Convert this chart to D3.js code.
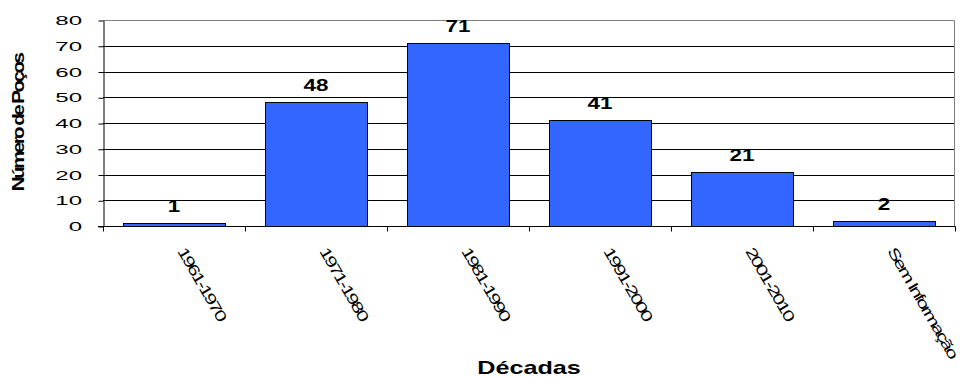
<!DOCTYPE html>
<html>
<head>
<meta charset="utf-8">
<script src="https://cdn.jsdelivr.net/npm/d3@7"></script>
<style>
body { margin: 0; background: #fff; }
text { font-family: Arial, "Liberation Sans", sans-serif; fill: #000; }
</style>
</head>
<body>
<svg width="960" height="379"></svg>
<script>
var decadas = ["1961-1970", "1971-1980", "1981-1990", "1991-2000", "2001-2010", "Sem Informação"];
var pocos = [1, 48, 71, 41, 21, 2];
var yTicks = [0, 10, 20, 30, 40, 50, 60, 70, 80];

var svg = d3.select("svg");
// plot area (note: "top" is reserved on window, so use other names)
var plotL = 103, plotR = 955, plotT = 20, plotB = 226;

var x = d3.scaleBand().domain(decadas).range([plotL, plotR])
	.paddingInner(0.28).paddingOuter(0.14);
var y = d3.scaleLinear().domain([0, 80]).range([plotB, plotT]);

// grid lines
svg.append("g").selectAll("line")
	.data(yTicks.filter(function(d) { return d > 0 && d < 80; }))
	.enter().append("line")
		.attr("x1", plotL).attr("x2", plotR)
		.attr("y1", function(d) { return Math.round(y(d)) + 0.5; })
		.attr("y2", function(d) { return Math.round(y(d)) + 0.5; })
		.attr("stroke", "#000").attr("stroke-width", 1);

// top and right border (grey)
svg.append("path")
	.attr("d", "M" + plotL + "," + (plotT + 0.5) + "H" + (plotR - 0.5) + "V" + plotB)
	.attr("fill", "none").attr("stroke", "#808080");

// bars
svg.append("g").selectAll("rect")
	.data(pocos)
	.enter().append("rect")
		.attr("x", function(d, i) { return Math.round(x(decadas[i])) + 0.5; })
		.attr("y", function(d) { return Math.round(y(d)) + 0.5; })
		.attr("width", Math.round(x.bandwidth()))
		.attr("height", function(d) { return Math.round(plotB - y(d)); })
		.attr("fill", "#3366ff")
		.attr("stroke", "#000").attr("stroke-width", 1);

// value labels
svg.append("g").selectAll("text")
	.data(pocos)
	.enter().append("text")
		.attr("transform", function(d, i) {
			return "translate(" + (x(decadas[i]) + x.bandwidth() / 2) + "," + (y(d) - 11) + ") scale(1.4,1)";
		})
		.attr("text-anchor", "middle")
		.attr("font-size", 16).attr("font-weight", "bold")
		.text(function(d) { return d; });

// y axis
var yAxis = svg.append("g").attr("transform", "translate(" + (plotL + 0.5) + ",0.5)")
	.call(d3.axisLeft(y).tickValues(yTicks).tickSize(5).tickSizeOuter(0).tickFormat(""));
yAxis.select(".domain").attr("stroke", "#000");
svg.append("g").selectAll("text")
	.data(yTicks)
	.enter().append("text")
		.attr("transform", function(d) { return "translate(82," + (y(d) + 5) + ") scale(1.85,1)"; })
		.attr("text-anchor", "end")
		.attr("font-size", 13)
		.text(function(d) { return d; });

// x axis
var xAxis = svg.append("g").attr("transform", "translate(0," + (plotB + 0.5) + ")");
xAxis.append("line").attr("x1", plotL - 5).attr("x2", plotR + 0.5).attr("stroke", "#000");
xAxis.selectAll("line.tk")
	.data(d3.range(decadas.length + 1))
	.enter().append("line").attr("class", "tk")
		.attr("x1", function(i) { return Math.round(plotL + x.step() * i) + 0.5; })
		.attr("x2", function(i) { return Math.round(plotL + x.step() * i) + 0.5; })
		.attr("y1", 0).attr("y2", 5)
		.attr("stroke", "#000");

// squashed, overlapping labels like the original export
svg.append("g").selectAll("text")
	.data(decadas)
	.enter().append("text")
		.attr("transform", function(d) {
			return "translate(" + (x(d) + x.bandwidth() / 2 + 3) + ",251) rotate(60) scale(1.42,1)";
		})
		.attr("font-size", 15)
		.attr("letter-spacing", -1.6)
		.text(function(d) { return d; });

// axis titles
svg.append("text")
	.attr("transform", "translate(" + ((plotL + plotR) / 2) + ",374) scale(1.4,1)")
	.attr("text-anchor", "middle")
	.attr("font-size", 18).attr("font-weight", "bold")
	.text("Décadas");

svg.append("text")
	.attr("transform", "translate(24,123) rotate(-90) scale(1.29,1)")
	.attr("text-anchor", "middle")
	.attr("font-size", 16).attr("font-weight", "bold")
	.attr("letter-spacing", -2)
	.text("Número de Poços");
</script>
</body>
</html>
